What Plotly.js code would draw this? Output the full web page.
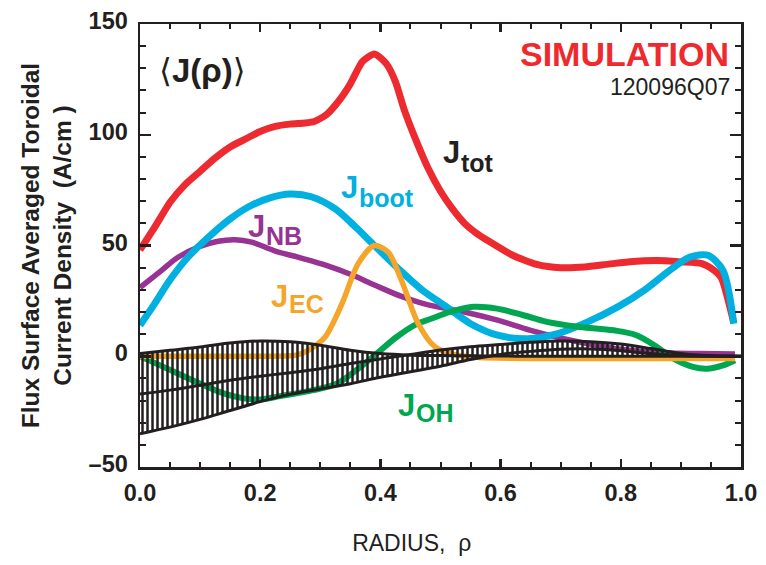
<!DOCTYPE html>
<html>
<head>
<meta charset="utf-8">
<script src="https://cdn.plot.ly/plotly-3.0.1.min.js"></script>
<style>html,body{margin:0;padding:0;background:#fff;}#chart{width:766px;height:565px;}</style>
</head>
<body>
<div id="chart"></div>
<script>
// ---- Data ----
// J_tot (red)
const rhoTot = [0.0,0.025,0.05,0.075,0.1,0.125,0.15,0.175,0.2,0.225,0.25,0.275,0.29,0.31,0.33,0.35,0.37,0.39,0.41,0.425,0.44,0.46,0.48,0.5,0.52,0.54,0.56,0.58,0.62,0.66,0.7,0.74,0.78,0.82,0.86,0.9,0.935,0.955,0.967,0.988];
const jTot   = [48,58.5,69.5,77.5,83.5,89.5,94.5,98,101.5,103.8,104.8,105.3,106,109,115,123,133,136.5,132,124,111,97,84.5,74.5,66.5,60,55.5,52,45.6,41.5,40,40.3,41.6,42.8,43.2,42.6,41.8,38.8,35.5,15];
// J_boot (cyan)
const rhoBoot = [0.0,0.025,0.05,0.08,0.115,0.15,0.18,0.215,0.25,0.285,0.325,0.36,0.39,0.43,0.47,0.51,0.55,0.595,0.645,0.695,0.745,0.795,0.84,0.88,0.915,0.945,0.97,0.988];
const jBoot   = [14,24,34.5,44.8,54,62,67.4,71.4,73.2,72,66.5,58,50,39.5,29.8,22.3,14.7,9.5,7.9,10.2,15.5,22.3,30,38.5,44.8,45.6,38.8,14.7];
// J_NB (purple)
const rhoNB = [0.0,0.036,0.064,0.097,0.13,0.158,0.186,0.225,0.27,0.31,0.35,0.39,0.435,0.475,0.54,0.595,0.65,0.705,0.76,0.815,0.87,0.93,0.99];
const jNB   = [31,38.8,44.8,49.3,51.9,52.6,51.5,47.5,44.2,41,37,32.2,27,23.5,20,16.3,11.7,7.9,4.9,2.7,1.6,1.2,1];
// J_EC (orange)
const rhoEC = [0.0,0.1,0.2,0.26,0.28,0.308,0.336,0.363,0.39,0.413,0.435,0.463,0.491,0.52,0.56,0.7,0.85,0.99];
const jEC   = [0,0,0,0.5,2.7,8.7,23.7,41.8,50,47,34.3,14.7,4.2,1,-0.5,-1,-1,-1];
// J_OH (green)
const rhoOH = [0.0,0.039,0.094,0.139,0.172,0.2,0.233,0.288,0.327,0.36,0.394,0.427,0.46,0.483,0.516,0.555,0.594,0.638,0.677,0.732,0.788,0.826,0.86,0.887,0.92,0.943,0.97,0.99];
const jOH   = [0,-4.8,-11.6,-16.8,-19,-19.5,-18,-15.3,-12.4,-6.3,1.2,8.7,14.5,16.8,20,22.3,21.5,18.5,15.5,13.2,11.7,9.5,4.2,-1,-4.8,-5.6,-4.1,-1.8];
// Hatched uncertainty band (black): three boundary curves
const rhoBand = [0,0.05,0.1,0.15,0.2,0.25,0.3,0.35,0.4,0.45,0.5,0.55,0.6,0.65,0.7,0.75,0.8,0.85,0.9,0.95,1.0];
const bandA = [1.2,2.7,4.2,6,6.9,6.5,5,2.7,1.2,0.5,0.3,0.2,0.1,0,0,0,0,0,0,0,0];
const bandB = [-17,-15.3,-13.1,-10.8,-9,-7.4,-5.6,-3.3,-1.2,0.8,2.8,4.3,5.3,6.3,6.9,6.6,5.5,3.5,1.3,0.3,0];
const bandC = [-35,-32,-28.5,-24.5,-20.5,-17.2,-14.8,-12.4,-9.5,-7,-4.5,-1.5,0.8,2.2,3.2,3.3,2.5,1.2,0.3,0,0];

const xTicks = [0,0.2,0.4,0.6,0.8,1.0];
const xTickText = ['0.0','0.2','0.4','0.6','0.8','1.0'];
const yTicks = [-50,0,50,100,150];
const yTickText = ['\u201350','0','50','100','150'];

// curve labels: main letter and subscript
const labelMain = ['J','J','J','J','J'];
const labelSub  = ['tot','boot','NB','EC','OH'];

// ---- Styling ----
const INK = '#231f20';
const RED = '#ed2a2f', CYAN = '#00b0e0', PURPLE = '#983293', ORANGE = '#f4a52a', GREEN = '#00a650';
const SANS = '"Liberation Sans", Arial, "DejaVu Sans", sans-serif';

const bandTop = bandA.map((a,i)=>Math.max(a,bandB[i],bandC[i]));
const bandBot = bandA.map((a,i)=>Math.min(a,bandB[i],bandC[i]));

function curve(x,y,color,width,smooth){
  return {x:x,y:y,type:'scatter',mode:'lines',hoverinfo:'skip',
    line:{color:color,width:width,shape:'spline',smoothing:smooth}};
}

const traces = [
  curve(rhoTot,jTot,RED,7,0.6),
  curve(rhoNB,jNB,PURPLE,5.5,1),
  curve(rhoBoot,jBoot,CYAN,7,0.8),
  curve(rhoOH,jOH,GREEN,6,1),
  curve(rhoEC,jEC,ORANGE,5.5,0.8),
  {x:rhoBand,y:bandTop,type:'scatter',mode:'lines',hoverinfo:'skip',
    line:{width:0,shape:'spline',color:INK}},
  {x:rhoBand,y:bandBot,type:'scatter',mode:'lines',hoverinfo:'skip',fill:'tonexty',
    fillcolor:'rgba(0,0,0,0)',
    fillpattern:{shape:'|',fgcolor:INK,bgcolor:'rgba(0,0,0,0)',size:5,solidity:0.5,fillmode:'replace'},
    line:{width:0,shape:'spline',color:INK}},
  curve(rhoBand,bandA,INK,3,1),
  curve(rhoBand,bandB,INK,3,1),
  curve(rhoBand,bandC,INK,3,1)
];

function pX(px){return (px-140)/601;}
function pY(py){return (467-py)/443;}

// label placement in pixels: [J left, J cap centre, sub cap centre]
const labelPos = [
  [443,152.5,163],
  [341,187.5,198],
  [248,226.5,236],
  [271,296.5,304],
  [398,405,413]
];
const labelColor = [INK,CYAN,PURPLE,ORANGE,GREEN];
const J_SIZE = 31, SUB_SIZE = 25;

const labelAnn = [];
labelSub.forEach((s,i)=>{
  const p = labelPos[i];
  labelAnn.push({text:labelMain[i],xref:'paper',yref:'paper',x:pX(p[0]),y:pY(p[1]),
    xanchor:'left',yanchor:'middle',showarrow:false,borderpad:0,borderwidth:0,
    font:{family:SANS,size:J_SIZE,color:labelColor[i],weight:700}});
  labelAnn.push({text:s,xref:'paper',yref:'paper',x:pX(p[0]+J_SIZE*0.556+0.8),y:pY(p[2]),
    xanchor:'left',yanchor:'middle',showarrow:false,borderpad:0,borderwidth:0,
    font:{family:SANS,size:SUB_SIZE,color:labelColor[i],weight:700}});
});

const layout = {
  width:766,height:565,
  margin:{l:140,r:25,t:24,b:98,pad:0},
  paper_bgcolor:'#ffffff',plot_bgcolor:'#ffffff',
  showlegend:false,
  xaxis:{
    range:[0,1],tickmode:'array',tickvals:xTicks,ticktext:xTickText,
    ticks:'inside',ticklen:8,tickwidth:2.5,tickcolor:INK,
    minor:{dtick:0.05,ticks:'inside',ticklen:5,tickwidth:2,tickcolor:INK},
    showline:true,linewidth:2.5,linecolor:INK,mirror:'allticks',
    showgrid:false,zeroline:false,ticklabelstandoff:3,
    tickfont:{family:SANS,size:23.5,color:INK,weight:700},
    title:{text:'RADIUS,  \u03c1\u00a0\u00a0\u00a0\u00a0\u00a0\u00a0\u00a0\u00a0\u00a0\u200b',font:{family:SANS,size:23,color:INK},standoff:30}
  },
  yaxis:{
    range:[-50,150],tickmode:'array',tickvals:yTicks,ticktext:yTickText,
    ticks:'inside',ticklen:11,tickwidth:2.5,tickcolor:INK,
    minor:{dtick:10,ticks:'inside',ticklen:6,tickwidth:2,tickcolor:INK},
    showline:true,linewidth:2.5,linecolor:INK,mirror:'allticks',
    showgrid:false,zeroline:false,ticklabelstandoff:5,ticklabelshift:-3,
    tickfont:{family:SANS,size:23.5,color:INK,weight:700},
    title:{text:'Flux Surface Averaged Toroidal<br>Current Density\u00a0 (A/cm )',
      font:{family:SANS,size:24.5,color:INK,weight:700},standoff:10}
  },
  annotations:[
    {text:'\u27e8<b>J(\u03c1)</b>\u27e9',xref:'paper',yref:'paper',x:pX(157),y:pY(70),
      xanchor:'left',yanchor:'middle',showarrow:false,
      font:{family:'"Liberation Sans", "DejaVu Sans", sans-serif',size:33,color:INK}},
    {text:'SIMULATION',xref:'paper',yref:'paper',x:pX(729),y:pY(54),
      xanchor:'right',yanchor:'middle',showarrow:false,borderpad:0,borderwidth:0,
      font:{family:SANS,size:34,color:'#ee2a2f',weight:700}},
    {text:'120096Q07',xref:'paper',yref:'paper',x:pX(730),y:pY(87),
      xanchor:'right',yanchor:'middle',showarrow:false,borderpad:0,borderwidth:0,
      font:{family:SANS,size:23,color:INK}}
  ].concat(labelAnn)
};

Plotly.newPlot('chart',traces,layout,{staticPlot:true,displayModeBar:false});
</script>
</body>
</html>
